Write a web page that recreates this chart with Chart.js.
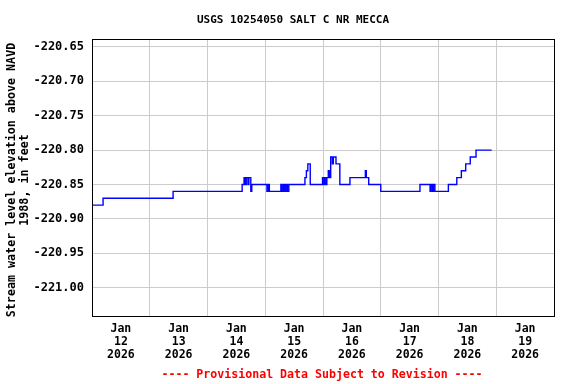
<!DOCTYPE html>
<html>
<head>
<meta charset="utf-8">
<script src="https://cdn.jsdelivr.net/npm/chart.js@4/dist/chart.umd.min.js"></script>
<style>
html,body{margin:0;padding:0;background:#fff;}
#wrap{width:576px;height:384px;position:relative;}
</style>
</head>
<body>
<div id="wrap"><canvas id="c" width="576" height="384"></canvas></div>
<script>
// Hours since Jan 12 2026 00:00 at which the gage height changes, and the new value (ft)
const hours = [0, 4.6, 33.7, 62.4, 63.2, 63.7, 64.1, 64.8, 65.2, 66.0, 66.4, 72.7, 73.3, 73.7, 78.5, 78.9, 79.5, 80.1, 80.6, 81.2, 81.8,
  88.5, 89.1, 89.7, 90.7, 95.8, 96.4, 96.8, 97.4, 97.6, 98.2, 98.7, 99.2, 99.9, 100.3, 101.4, 103.0, 107.2, 113.6, 114.0, 115.0,
  120.0, 136.3, 140.5, 140.9, 141.5, 141.9, 142.5, 148.1, 151.6, 153.5, 155.3, 157.2, 159.6, 166.1];
const levels = [-220.88, -220.87, -220.86, -220.85, -220.84, -220.85, -220.84, -220.85, -220.84, -220.86, -220.85, -220.86, -220.85, -220.86, -220.85, -220.86, -220.85, -220.86, -220.85, -220.86, -220.85,
  -220.84, -220.83, -220.82, -220.85, -220.84, -220.85, -220.84, -220.85, -220.84, -220.83, -220.84, -220.81, -220.82, -220.81, -220.82, -220.85, -220.84, -220.83, -220.84, -220.85,
  -220.86, -220.85, -220.86, -220.85, -220.86, -220.85, -220.86, -220.85, -220.84, -220.83, -220.82, -220.81, -220.80, -220.80];
const dayLabels = ['12', '13', '14', '15', '16', '17', '18', '19'];
const yTicks = [-221.00, -220.95, -220.90, -220.85, -220.80, -220.75, -220.70, -220.65];
const titleText = 'USGS 10254050 SALT C NR MECCA';
const yTitle = ['Stream water level elevation above NAVD', '1988, in feet'];
const footerText = '---- Provisional Data Subject to Revision ----';

const mono = '"DejaVu Sans Mono", "Liberation Mono", monospace';
const pts = hours.map((h, i) => ({x: h, y: levels[i]}));

const decor = {
  id: 'decor',
  afterDraw(chart) {
    const ctx = chart.ctx, a = chart.chartArea;
    ctx.save();
    ctx.strokeStyle = '#000';
    ctx.lineWidth = 1;
    ctx.strokeRect(Math.round(a.left) + 0.5, Math.round(a.top) + 0.5, Math.round(a.right - a.left), Math.round(a.bottom - a.top));
    ctx.fillStyle = '#000';
    ctx.textAlign = 'center';
    ctx.textBaseline = 'middle';
    ctx.font = 'bold 11px ' + mono;
    ctx.fillText(titleText, 293, 20);
    ctx.fillStyle = '#ff0000';
    ctx.font = 'bold 11.6px ' + mono;
    ctx.fillText(footerText, 322, 375);
    ctx.fillStyle = '#000';
    ctx.font = 'bold 11.7px ' + mono;
    ctx.translate(12, 180);
    ctx.rotate(-Math.PI / 2);
    ctx.fillText(yTitle[0], 0, 0);
    ctx.fillText(yTitle[1], 0, 13);
    ctx.restore();
  }
};

new Chart(document.getElementById('c'), {
  type: 'line',
  data: {
    datasets: [{
      data: pts,
      borderColor: '#0000ff',
      borderWidth: 1.4,
      pointRadius: 0,
      stepped: true,
      fill: false,
      tension: 0
    }]
  },
  options: {
    responsive: false,
    animation: false,
    events: [],
    layout: {padding: {top: 39, right: 22, left: 0, bottom: 0}},
    plugins: {legend: {display: false}, title: {display: false}, tooltip: {enabled: false}},
    scales: {
      x: {
        type: 'linear',
        min: 0,
        max: 192,
        afterBuildTicks(s) {
          const t = [];
          for (let v = 0; v <= 192; v += 12) t.push({value: v});
          s.ticks = t;
        },
        afterFit(s) { s.height = 68; },
        border: {display: false},
        grid: {
          drawTicks: false,
          tickLength: 0,
          color: c => (c.tick && c.tick.value % 24 === 0 && c.tick.value > 0 && c.tick.value < 192) ? '#cccccc' : 'rgba(0,0,0,0)'
        },
        ticks: {
          autoSkip: false,
          maxRotation: 0,
          padding: 7,
          color: '#000',
          font: {family: mono, size: 11.5, weight: 'bold', lineHeight: 1.13},
          callback: v => (v % 24 === 12) ? ['Jan', dayLabels[(v - 12) / 24], '2026'] : ''
        }
      },
      y: {
        type: 'linear',
        min: -221.0412,
        max: -220.6384,
        afterBuildTicks(s) { s.ticks = yTicks.map(v => ({value: v})); },
        afterFit(s) { s.width = 92; },
        border: {display: false},
        grid: {drawTicks: false, tickLength: 0, color: '#cccccc'},
        ticks: {
          padding: 8,
          color: '#000',
          font: {family: mono, size: 12, weight: 'bold'},
          callback: v => v.toFixed(2)
        }
      }
    }
  },
  plugins: [decor]
});
</script>
</body>
</html>
